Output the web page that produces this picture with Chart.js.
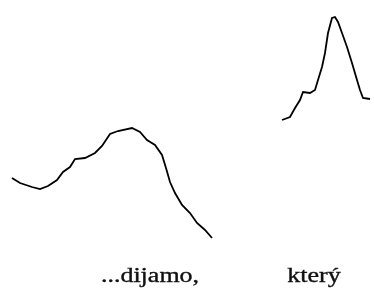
<!DOCTYPE html>
<html lang="cs">
<head>
    <meta charset="UTF-8">
    <title>Intonace</title>
    <style>
        html, body { margin: 0; padding: 0; background: #fff; }
        #chart { display: block; }
    </style>
</head>
<body>
    <canvas id="chart" width="374" height="291"></canvas>

    <script src="https://cdn.jsdelivr.net/npm/chart.js@4"></script>
    <script>
        // pitch contour of the first word (time, height)
        var firstTime = [12, 20, 32, 40, 48, 57, 63, 70, 75, 85, 95, 102, 110, 118, 132, 140, 147, 155, 162, 166, 170, 175, 182, 190, 197, 205, 212];
        var firstPitch = [113, 108, 104, 102, 105, 111, 119, 124, 132, 133, 138, 145, 157, 160, 163, 159, 151, 146, 136, 123, 109, 98, 86, 78, 68, 61, 53];

        // pitch contour of the second word
        var secondTime = [282, 290, 295, 300, 303, 310, 315, 318, 322, 325, 328, 332, 335, 338, 342, 347, 352, 357, 360, 363, 370];
        var secondPitch = [171, 174, 183, 191, 199, 198, 201, 211, 224, 238, 258, 273, 274, 269, 258, 244, 228, 211, 201, 193, 192];

        // words under the contours
        var words = ['...dijamo,', 'který'];

        function toPoints(xs, ys) {
            var pts = [];
            for (var i = 0; i < xs.length; i++) {
                pts.push({ x: xs[i], y: ys[i] });
            }
            return pts;
        }

        // writes the words under the curves, in serif like the original
        var wordPlugin = {
            id: 'words',
            afterDraw: function (chart, args, opts) {
                var ctx = chart.ctx;
                var xs = chart.scales.x;
                var ys = chart.scales.y;
                ctx.save();
                ctx.fillStyle = '#111';
                ctx.strokeStyle = '#111';
                ctx.lineWidth = 0.35;
                ctx.font = opts.size + 'px "Liberation Serif", "Times New Roman", serif';
                ctx.textAlign = 'center';
                ctx.textBaseline = 'alphabetic';
                for (var i = 0; i < words.length; i++) {
                    var px = xs.getPixelForValue(opts.at[i]);
                    var py = ys.getPixelForValue(opts.baseline);
                    ctx.save();
                    ctx.translate(px, py);
                    ctx.scale(opts.stretch, 1);
                    ctx.fillText(words[i], 0, 0);
                    ctx.strokeText(words[i], 0, 0);
                    ctx.restore();
                }
                ctx.restore();
            }
        };

        var line = {
            showLine: true,
            borderColor: '#000',
            borderWidth: 1.8,
            pointRadius: 0,
            tension: 0,
            fill: false
        };

        new Chart(document.getElementById('chart'), {
            type: 'scatter',
            data: {
                datasets: [
                    Object.assign({ label: words[0], data: toPoints(firstTime, firstPitch) }, line),
                    Object.assign({ label: words[1], data: toPoints(secondTime, secondPitch) }, line)
                ]
            },
            options: {
                responsive: false,
                animation: false,
                layout: { padding: 0 },
                scales: {
                    x: { type: 'linear', min: 0, max: 374, display: false },
                    y: { type: 'linear', min: 0, max: 291, display: false }
                },
                plugins: {
                    legend: { display: false },
                    tooltip: { enabled: false },
                    words: { at: [150, 314], baseline: 9, size: 20, stretch: 1.3 }
                }
            },
            plugins: [wordPlugin]
        });
    </script>
</body>
</html>
